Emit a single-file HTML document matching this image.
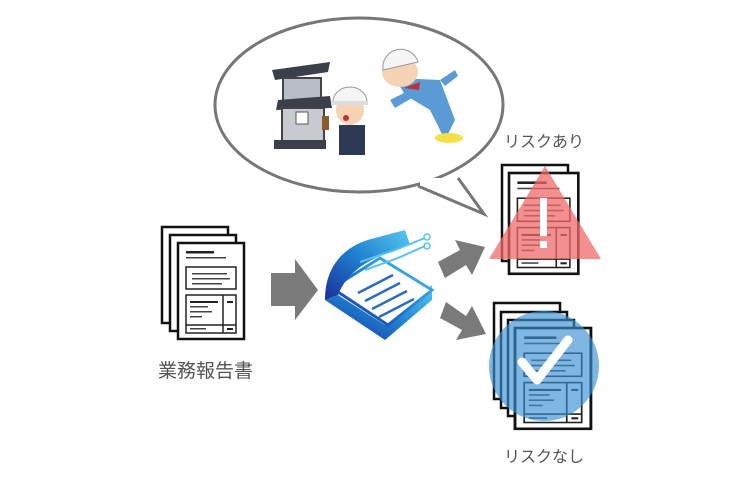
<!DOCTYPE html>
<html><head><meta charset="utf-8"><style>
html,body{margin:0;padding:0;background:#fff;}
svg{display:block}
text{font-family:"Liberation Sans","Noto Sans CJK JP",sans-serif;fill:#555}
</style></head><body>
<svg width="736" height="493" viewBox="0 0 736 493" xmlns="http://www.w3.org/2000/svg">
<defs>
<g id="doc">
<rect x="0" y="0" width="66" height="96" fill="#fff" stroke="#111" stroke-width="2.5"/>
<rect x="8" y="8" width="28" height="2.5" fill="#222"/>
<rect x="8" y="14" width="40" height="1.5" fill="#444"/>
<rect x="8" y="24" width="50" height="22" fill="none" stroke="#222" stroke-width="1.5"/>
<rect x="14" y="30" width="35" height="1.5" fill="#444"/>
<rect x="14" y="35" width="38" height="1.5" fill="#444"/>
<rect x="14" y="40" width="30" height="1.5" fill="#444"/>
<rect x="8" y="52" width="50" height="38" fill="none" stroke="#222" stroke-width="1.5"/>
<line x1="45" y1="52" x2="45" y2="90" stroke="#222" stroke-width="1.5"/>
<line x1="8" y1="82" x2="58" y2="82" stroke="#222" stroke-width="1.5"/>
<rect x="12" y="58" width="28" height="2" fill="#222"/>
<rect x="12" y="63" width="18" height="1.5" fill="#444"/>
<rect x="12" y="68" width="22" height="1.5" fill="#444"/>
<rect x="12" y="73" width="12" height="1.5" fill="#444"/>
<rect x="49" y="58" width="6" height="2" fill="#222"/>
<rect x="12" y="85" width="16" height="1.5" fill="#444"/>
<rect x="49" y="85" width="6" height="2" fill="#222"/>
</g>
<linearGradient id="bk" x1="0" y1="1" x2="1" y2="0">
<stop offset="0" stop-color="#1a2f9a"/><stop offset="0.5" stop-color="#1e7fd0"/><stop offset="1" stop-color="#59c8f0"/>
</linearGradient>
</defs>

<!-- speech bubble -->
<ellipse cx="359" cy="105" rx="144" ry="87" fill="#fff" stroke="#777" stroke-width="3"/>
<polygon points="418,186 484,214 458,178" fill="#fff"/>
<polyline points="418,186 484,214 458,178" fill="none" stroke="#777" stroke-width="3" stroke-linejoin="miter"/>
<rect x="420" y="178" width="36" height="8" fill="#fff"/>

<!-- house -->
<g>
<polygon points="272,70 330,62 328,72 275,80" fill="#3a3f4a"/>
<rect x="283" y="78" width="38" height="25" fill="#b8bcc4" stroke="#444" stroke-width="2"/>
<polygon points="278,100 330,96 332,108 276,110" fill="#3a3f4a"/>
<rect x="282" y="108" width="42" height="35" fill="#c7cad0" stroke="#444" stroke-width="2"/>
<rect x="296" y="112" width="12" height="12" fill="#fff" stroke="#555"/>
<rect x="274" y="140" width="52" height="9" fill="#3a3f4a"/>
<rect x="322" y="116" width="7" height="14" fill="#8a5a2a"/>
</g>
<!-- worker 1 -->
<g>
<rect x="339" y="125" width="26" height="30" fill="#2c3a55"/>
<ellipse cx="350" cy="110" rx="14" ry="15" fill="#f6d3b5"/>
<path d="M333,102 A17,15 0 0 1 367,102 Z" fill="#f5f5f5" stroke="#999"/>
<rect x="331" y="101" width="37" height="4" fill="#ddd"/>
<circle cx="346" cy="118" r="3" fill="#c0303a"/>
</g>
<!-- worker 2 falling -->
<g>
<path d="M395,78 L440,80 L455,120 L445,140 L430,110 L405,95 Z" fill="#5b9bd5"/>
<path d="M390,100 L410,90 L412,98 L395,108 Z" fill="#5b9bd5"/>
<path d="M440,80 L455,70 L458,76 L445,86 Z" fill="#5b9bd5"/>
<ellipse cx="400" cy="72" rx="18" ry="15" fill="#f6d3b5"/>
<path d="M383,70 A18,18 0 0 1 418,62 Z" fill="#f5f5f5" stroke="#999"/>
<ellipse cx="449" cy="138" rx="14" ry="5" fill="#f7e046"/>
<path d="M404,88 L420,82 L419,90 Z" fill="#c0303a"/>
</g>

<!-- left docs -->
<use href="#doc" x="162" y="227"/>
<use href="#doc" x="170" y="235"/>
<use href="#doc" x="178" y="243"/>
<text x="158" y="377" font-size="19">業務報告書</text>

<!-- arrow 1 -->
<polygon points="271,273 295,273 295,259 318,290 295,320 295,306 271,306" fill="#7a7a7a"/>

<!-- book -->
<g>
<polygon points="325,300 385,340 432,300 432,285 385,325 338,295" fill="url(#bk)"/>
<polygon points="335,290 388,325 432,290 380,258 345,280" fill="#fff" stroke="url(#bk)" stroke-width="3"/>
<path d="M325,300 C325,265 345,245 375,238 L405,230 L410,245 C380,255 350,265 338,295 Z" fill="url(#bk)"/>
<g stroke="#2a6cc2" stroke-width="2.5">
<line x1="358" y1="293" x2="393" y2="275"/>
<line x1="365" y1="301" x2="400" y2="283"/>
<line x1="372" y1="309" x2="407" y2="291"/>
<line x1="379" y1="317" x2="414" y2="299"/>
</g>
<g stroke="#58c4ee" stroke-width="2" fill="none">
<path d="M360,262 L395,250 L425,238"/>
<path d="M365,270 L398,258 L425,246"/>
</g>
<circle cx="427" cy="237" r="3" fill="none" stroke="#58c4ee" stroke-width="1.5"/>
<circle cx="427" cy="246" r="3" fill="none" stroke="#58c4ee" stroke-width="1.5"/>
</g>

<!-- arrows to right -->
<polygon points="438,262 460,250 455,240 485,247 472,275 466,265 445,278" fill="#7a7a7a"/>
<polygon points="440,318 462,330 456,340 486,334 472,306 466,316 446,302" fill="#7a7a7a"/>

<!-- top docs -->
<text x="504" y="147" font-size="16">リスクあり</text>
<use href="#doc" x="502" y="165"/>
<g transform="translate(509,173) scale(1.05,1.05)"><use href="#doc"/></g>
<polygon points="545,166 601,259 489,259" fill="#f06a6a" opacity="0.75"/>
<rect x="540" y="198" width="7" height="38" fill="#fff"/>
<rect x="540" y="241" width="7" height="7" fill="#fff"/>

<!-- bottom docs -->
<use href="#doc" x="494" y="303"/>
<use href="#doc" x="501" y="312"/>
<use href="#doc" x="508" y="320"/>
<g transform="translate(515,328) scale(1.15,1.05)"><use href="#doc"/></g>
<circle cx="544" cy="366" r="55" fill="#3b8fd3" opacity="0.65"/>
<path d="M522,362 L537,380 L568,340" fill="none" stroke="#fff" stroke-width="9" stroke-linecap="round" stroke-linejoin="round"/>
<text x="504" y="462" font-size="16">リスクなし</text>
</svg>
</body></html>
